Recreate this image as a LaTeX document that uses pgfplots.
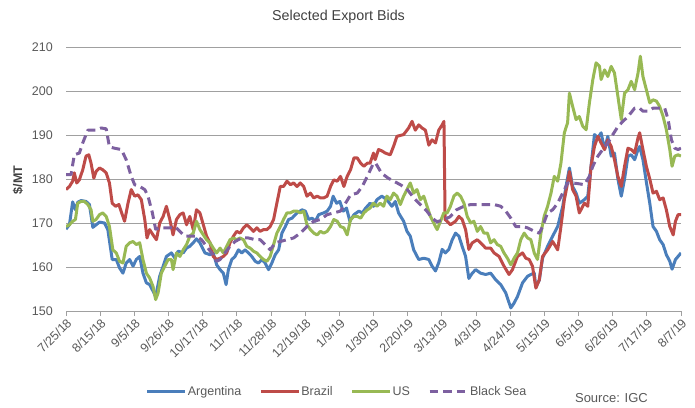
\documentclass[border=0pt]{standalone}
\usepackage{fontspec}
\setmainfont{Liberation Sans}
\usepackage{pgfplots}
\pgfplotsset{compat=1.18}
\definecolor{cArg}{HTML}{4A7EBB}
\definecolor{cBra}{HTML}{BE4B48}
\definecolor{cUS}{HTML}{98B954}
\definecolor{cBS}{HTML}{7D60A0}
\definecolor{gridgray}{HTML}{A0A0A0}
\definecolor{txtgray}{HTML}{595959}
\definecolor{titlegray}{HTML}{404040}
\begin{document}
\begin{tikzpicture}
\path[use as bounding box] (0pt,0pt) rectangle (695pt,407pt);
\node[font=\fontsize{14.3}{16}\selectfont, text=titlegray, inner sep=0pt] at (338.5pt,390pt) {Selected Export Bids};
\node[rotate=90, font=\bfseries\fontsize{12.5}{14}\selectfont, text=titlegray, inner sep=0pt] at (18pt,227pt) {\$/MT};
\node[anchor=east, font=\fontsize{13}{15}\selectfont, text=txtgray, inner sep=0pt] at (648pt,9pt) {Source: IGC};
\begin{axis}[
  at={(66pt,96pt)}, anchor=south west,
  scale only axis, width=615pt, height=264pt,
  xmin=0, xmax=378, ymin=150, ymax=210,
  axis x line*=bottom, axis y line*=left,
  x axis line style={draw=gridgray, line width=0.8pt},
  y axis line style={draw=none},
  xtick={0,21,...,378},
  xticklabels={7/25/18,8/15/18,9/5/18,9/26/18,10/17/18,11/7/18,11/28/18,12/19/18,1/9/19,1/30/19,2/20/19,3/13/19,4/3/19,4/24/19,5/15/19,6/5/19,6/26/19,7/17/19,8/7/19},
  ytick={150,160,...,210},
  ymajorgrids, grid style={draw=gridgray, line width=0.8pt},
  tick align=outside, major tick length=5pt,
  xtick style={draw=gridgray, line width=0.8pt},
  ytick style={draw=none},
  tick label style={font=\fontsize{12.5}{14}\selectfont, text=txtgray},
  xticklabel style={rotate=45, anchor=north east, inner sep=1pt},
  yticklabel style={inner sep=1pt, xshift=-7pt},
  /pgf/number format/assume math mode=true,
  no markers,
  every axis plot/.append style={line width=3pt, line join=round},
  legend columns=4,
  legend style={at={(0.44,-0.306)}, anchor=center, draw=none, fill=none,
    font=\fontsize{12.5}{14}\selectfont, text=txtgray,
    /tikz/every even column/.append style={column sep=17pt},
    nodes={inner xsep=1pt}},
  legend image code/.code={\draw[#1] (0pt,0pt) -- (38pt,0pt);},
]
% Argentina
\addplot[cArg] coordinates {
(0,168.6) (2.1,169.6) (4.1,174.8) (5.8,173) (7.2,174.7) (9.3,175.1) (12.3,174.9) (14.4,174.2) (16.5,169.0) (18.5,169.6) (20.6,170.2) (23.7,170) (25.7,168.5) (28.4,161.7) (30.9,161.7) (32.9,159.8) (35,158.6) (37,160.9) (39.1,161.7) (41.2,160.2) (43.2,161.7) (45.3,162.4) (47.3,158.6) (49.4,156.4) (51.4,156) (53.5,154.5) (55.1,153.3) (57.6,157.9) (59.7,160.2) (61.7,162.4) (64.8,163.2) (66.9,162) (68.9,163.6) (72,163.2) (74.1,164.3) (76.1,164.7) (78.2,165.5) (80.2,166.4) (82.3,165.5) (85.4,163.2) (88.5,162.8) (90.5,163.2) (92.6,160.5) (94.7,159.4) (96.7,158.6) (98.4,156) (99.8,159.4) (101.9,161.7) (103.9,162.4) (106,163.9) (108,163.2) (110.1,163.9) (112.1,163.2) (114.2,162.4) (116.3,161.3) (118.3,160.9) (120.4,161.7) (122.4,160.9) (124.5,159.4) (126.5,160.9) (128.6,162.8) (130.7,163.9) (132.7,167.7) (134.8,169.2) (136.8,170.8) (138.9,171.1) (142,172.3) (145.1,173) (147.1,172.7) (149.2,170.8) (151.2,171.1) (153.3,170.4) (155.3,171.9) (158.4,172.3) (160.5,172.7) (162.6,173.8) (164.2,176.1) (166.3,174.5) (168.3,174.9) (170.4,172.7) (172.4,173.4) (174.5,170.4) (177,171.9) (180,172.7) (182.1,172.3) (184.2,173.4)
(186.9,174.5) (189,173.8) (191.1,175.3) (194.1,176.1) (197.2,175.3) (200.3,173.8) (202.4,174.9) (204.4,172.3) (207.5,170.4) (209.6,168.1) (211.6,167) (213.7,163.9) (216.8,161.7) (219.9,162) (223,161.7) (225,160.2) (227.1,159.1) (229.1,161) (231.2,164) (233.2,163.2) (235.3,164) (237.4,166.2) (239.4,167.7) (241.5,167) (243.5,164.7) (245.6,162.4) (247.6,157.4) (249.7,158.6) (251.8,159.4) (254.8,158.6) (257.9,158.3) (261,158.6) (264.1,157.1) (267.2,156) (270.3,154.1) (273.4,150.7) (275.4,151.8) (277.5,153.3) (280.6,156.4) (283.7,157.9) (285.7,158.3) (287.8,158.6) (288.8,155.5) (290.9,157) (292.9,162) (296,164.7) (299.1,167) (302.2,169.2) (305.3,173.8) (307.3,178.3) (309.4,182.5) (311.4,178.3) (313.5,176.8) (315.5,174.5) (318.6,175.3) (320.7,176.1) (322.7,182.9) (324.8,190.1) (326.9,189.4) (328.9,190.5) (331,186.7) (333,189.7) (335.1,185.2) (337.1,185.9) (339.2,180) (341.3,176.1) (343.3,180) (345.4,185.2) (347.4,185.5) (349.5,184.4) (351.6,186.7) (352.6,187.4) (354.6,184.4) (356.7,179.3) (358.8,174.5) (360.8,169.2) (362.9,168.1) (364.9,166.2) (367,165.1) (369,162.8) (371.1,161.3) (372.5,159.5) (374.6,161.7) (376.2,162.4) (378,163.2)
};
\addlegendentry{Argentina}
% Brazil
\addplot[cBra] coordinates {
(0,177.6) (2.1,178.3) (4.1,179.5) (5.1,181.4) (6.6,179.1) (8.2,179.8) (10.3,182.1) (12.3,185.2) (14,185.5) (15.4,183.6) (17.1,180.2) (18.5,181.7) (20.6,182.5) (22.6,182.1) (24.7,181.4) (26.7,179.1) (28.4,174.5) (30.5,173.8) (32.5,174.2) (34.6,171.9) (36,170.4) (38.1,174.5) (40.1,177.6) (42.2,176.1) (44.2,176.4) (46.3,175.3) (48.4,170.8) (49.8,166.6) (51.4,168.5) (53.5,167.3) (55.6,166.2) (57.6,170) (59.7,171.5) (61.7,173.8) (63.8,170.8) (65.8,167.3) (67.9,170.8) (70,171.9) (72,172.3) (74.1,169.6) (76.1,171.5) (78.2,168.5) (80.2,173) (82.3,172.3) (84.4,169.6) (86.4,167) (88.5,165.5) (90.5,162.4) (92.6,161.7) (94.7,162) (96.7,162.4) (98.8,163.2) (100.8,165.5) (102.9,167) (104.9,168.1) (107,167.7) (109.1,168.9) (111.1,169.6) (113.2,168.9) (115.2,168.1) (117.3,168.9) (119.3,168.1) (121.4,168.5) (123.5,168.5) (125.5,169.2) (127.6,170.8) (129.6,174.5) (131.7,178.3) (133.7,178.3) (135.8,179.5) (137.9,178.7) (139.9,179.1) (142,178.3) (144,179.1) (146.1,178.3) (148.1,176.1) (150.2,176.8) (152.3,175.7) (154.3,176.1) (156.4,175.7) (158.4,175.7) (160.5,176.1) (162.6,178.3) (164.6,179.8) (166.7,179.5) (168.7,180.6) (170.8,178.3) (172.8,180.6) (174.9,182.1) (177,184.8) (179,184.8) (181.1,183.6) (183.1,182.9) (185.2,183.6)
(186.9,183.6) (189,185.9) (190,184.4) (192.1,186.7) (194.1,186.4) (196.2,185.9) (199.3,185.5) (201.3,187.4) (203.4,189.7) (207.5,190.1) (210.6,191.6) (212.7,193.1) (214.7,191.1) (216.8,192.3) (218.8,191.6) (220.9,191.1) (223,187.7) (225,188.9) (227.1,188.2) (229.1,191.1) (231.2,192.3) (232.3,193.1) (233,170.8) (236.3,169.6) (239.4,170.4) (241.5,171.5) (243.5,170.8) (245.6,168.5) (247.6,164) (249.7,165.5) (252.8,166.2) (255.9,165.1) (257.9,164.3) (261,164.3) (263.1,163.2) (266.2,162.4) (269.2,160.2) (272.3,158.3) (274.4,159.4) (277.5,162.4) (280.6,163.2) (282.6,162) (284.7,161.7) (286.7,160.2) (288.8,155.2) (290.9,157.1) (292.9,162.4) (296,163.9) (299.1,165.8) (302.2,163.9) (304.2,169.2) (306.3,175.3) (307.9,178.3) (309.4,181.7) (311.4,177.6) (313.5,176.1) (315.5,172.3) (318.6,174.5) (320.7,173.8) (322.7,182.9) (324.8,187.4) (326.9,189.7) (328.9,188.2) (331,186.7) (333,188.9) (335.1,187.4) (337.1,184.4) (339.2,180.6) (341.3,178.3) (343.3,182.9) (345.4,187) (347.4,186.7) (349.5,185.9) (351.6,189.4) (352.6,190.5) (354.6,186.7) (356.7,182.9) (358.8,180) (360.8,176.8) (362.9,177.2) (364.9,175.3) (367,175.7) (369,173) (371.1,169.2) (373.2,167.3) (374.6,170.4) (376.2,171.9) (378,171.9)
};
\addlegendentry{Brazil}
% US
\addplot[cUS] coordinates {
(0,169.2) (2.1,169.6) (4.1,170.4) (5.8,170.8) (7.2,174.5) (9.3,174.9) (11.3,174.9) (13.4,174.2) (15.4,173) (16.5,170.4) (18.5,170.8) (20.6,171.9) (22.6,172.3) (24.7,171.5) (26.7,169.2) (28.8,163.9) (30.9,163.2) (32.9,161.3) (35,160.9) (37,164.7) (39.1,165.5) (41.2,165.8) (43.2,165.1) (45.3,165.5) (47.3,161.7) (49.4,158.6) (51.4,157.5) (53.5,155.6) (55.1,152.6) (56.6,154.1) (58.6,158.6) (60.7,160.2) (62.8,161.7) (64.8,161.7) (65.8,159.4) (67.9,163.2) (70,162.4) (72,163.9) (74.1,165.1) (76.1,167) (78.2,167.7) (80.2,170.4) (82.3,168.5) (84.4,167.3) (86.4,166.2) (88.5,165.5) (90.5,164.3) (92.6,163.2) (94.7,164.3) (96.7,163.2) (98.8,164.7) (100.8,166.2) (102.9,166.6) (104.9,166.2) (107,166.6) (109.1,166.2) (111.1,164.7) (113.2,164.3) (115.2,163.6) (117.3,163.2) (119.3,162.4) (121.4,161.7) (123.5,161.3) (125.5,162.4) (127.6,165.1) (129.6,167.7) (131.7,169.2) (133.7,170.8) (135.8,172.3) (137.9,172.3) (139.9,172.7) (142,172.7) (144,172.3) (146.1,172.7) (148.1,169.6) (150.2,168.5) (152.3,167.7) (154.3,167.3) (156.4,168.1) (158.4,167.7) (160.5,168.1) (162.6,169.2) (164.6,170.8) (166.7,170.4) (168.7,169.2) (170.8,168.9) (172.8,167.3) (174.9,170.8) (177,171.5) (179,171.5) (181.1,171.1) (183.1,172.3) (185.2,173)
(186.9,173.4) (189,174.5) (191.1,173.8) (193.1,174.5) (195.2,173.8) (197.2,176.1) (199.3,175.3) (201.3,176.8) (203.4,176.1) (205.5,174.2) (207.5,176.1) (209.6,177.6) (211.6,179.1) (213.7,176.8) (215.7,177.6) (217.8,175.3) (219.9,176.1) (221.9,173.8) (224,171.5) (226,170) (228.1,168.5) (230.2,170.4) (232.2,172.3) (234.3,172.3) (236.3,173.8) (238.4,176.1) (240.4,176.8) (242.5,176.1) (244.6,174.5) (246.6,171.5) (248.7,170) (250.7,170.4) (252.8,168.1) (254.8,169.2) (256.9,167.7) (259,167.7) (261,165.5) (263.1,166.2) (265.1,165.1) (267.2,164.7) (269.2,163.2) (271.3,162) (273.4,160.5) (275.4,162) (277.5,163.2) (279.5,166.2) (281.6,167.7) (283.7,166.6) (285.7,166.2) (287.8,163.2) (289.8,161.7) (291.9,167.7) (293.9,171.5) (296,173.8) (298.1,176.8) (300.1,180.6) (302.2,179.5) (304.2,183.6) (306.3,190.5) (308.3,192.8) (309.4,199.5) (311.4,196.5) (313.5,193.5) (315.5,194.2) (317.6,192) (319.7,191.2) (321.7,197.3) (323.8,202.6) (325.8,206.4) (327.9,205.6) (328.9,202.6) (331,204.8) (333,203.3) (335.1,205.6) (337.1,204.1) (339.2,198.8) (341.3,193.5) (343.3,199.5) (345.4,200.3) (347.4,202.2) (349.5,200.3) (351.6,204.1) (353,207.9) (354.6,203.3) (356.7,200.3) (358.8,197.3) (360.8,198) (362.9,197.7) (364.9,196.5) (367,194.2) (369,191.2) (371.1,186.7) (372.5,182.9) (374.2,185.2) (376.2,185.5) (378,185.2)
};
\addlegendentry{US}
% Black Sea
\addplot[cBS, dash pattern=on 8.5pt off 5pt] coordinates {
(0,181) (3.1,181) (5.1,185.5) (8.2,185.9) (10.3,188.2) (13.4,191.1) (18.5,191.1) (21.6,191.6) (24.7,191.4) (26.7,187.3) (29.8,187) (34,186.7) (37,184.4) (40.1,180.6) (42.2,178.7) (45.3,178.3) (48.4,177.6) (50.4,176.1) (53.1,172.3) (55.1,168.6) (57.6,168.9) (63.8,168.9) (66.9,169.2) (70,168.1) (73,167) (76.1,167) (80.2,167) (83.3,166.2) (86.4,164.7) (89.5,163.2) (92.6,161.3) (94.7,161.7) (97.7,163.2) (100.8,164.7) (103.9,165.8) (108,166.6) (112.1,166.6) (116.3,166.2) (119.3,166.2) (122.4,165.1) (125.5,163.9) (128.6,165.5) (131.7,165.8) (135.8,166.2) (139.9,166.6) (144,167.7) (148.1,169.2) (152.3,170.4) (156.4,170.8) (160.5,171.9) (164.6,172.3) (168.7,172.7) (171.8,174.5) (174.9,176.4) (179,176.8) (182.1,178.3) (185.2,180.6)
(189,183.6) (190.3,183.6) (194,181.3) (198,180.2) (202,179.4) (206,178.6) (210,177.5) (214,175.6) (218,174.1) (222,172.6) (225,171.1) (228,170.3) (232,170.7) (236,171.4) (240,173) (244,173.7) (248.7,174.2) (259,174.2) (263.1,174.2) (267.2,173.8) (270.3,172.7) (273.4,171.1) (276.4,169.2) (280.6,169.2) (283.7,168.9) (287.8,168.1) (290.9,167.7) (292.9,169.2) (296,172.3) (299.1,173) (302.2,174.5) (305.3,176.8) (308.3,179.1) (311.4,179.1) (315.5,178.9) (318.6,178.7) (321.7,180.6) (323.8,182.9) (326.9,185.2) (329.9,186.7) (333,188.2) (336.1,190.1) (339.2,191.9) (342.3,193.1) (345.4,194.2) (349.5,196.1) (352.6,196.1) (354.6,195.4) (357.7,195.4) (360.8,196.1) (363.9,196.1) (368,196.1) (370.1,193.5) (372.1,188.9) (374.2,187) (376.2,186.7) (378,187)
};
\addlegendentry{Black Sea}
\end{axis}
\end{tikzpicture}
\end{document}
